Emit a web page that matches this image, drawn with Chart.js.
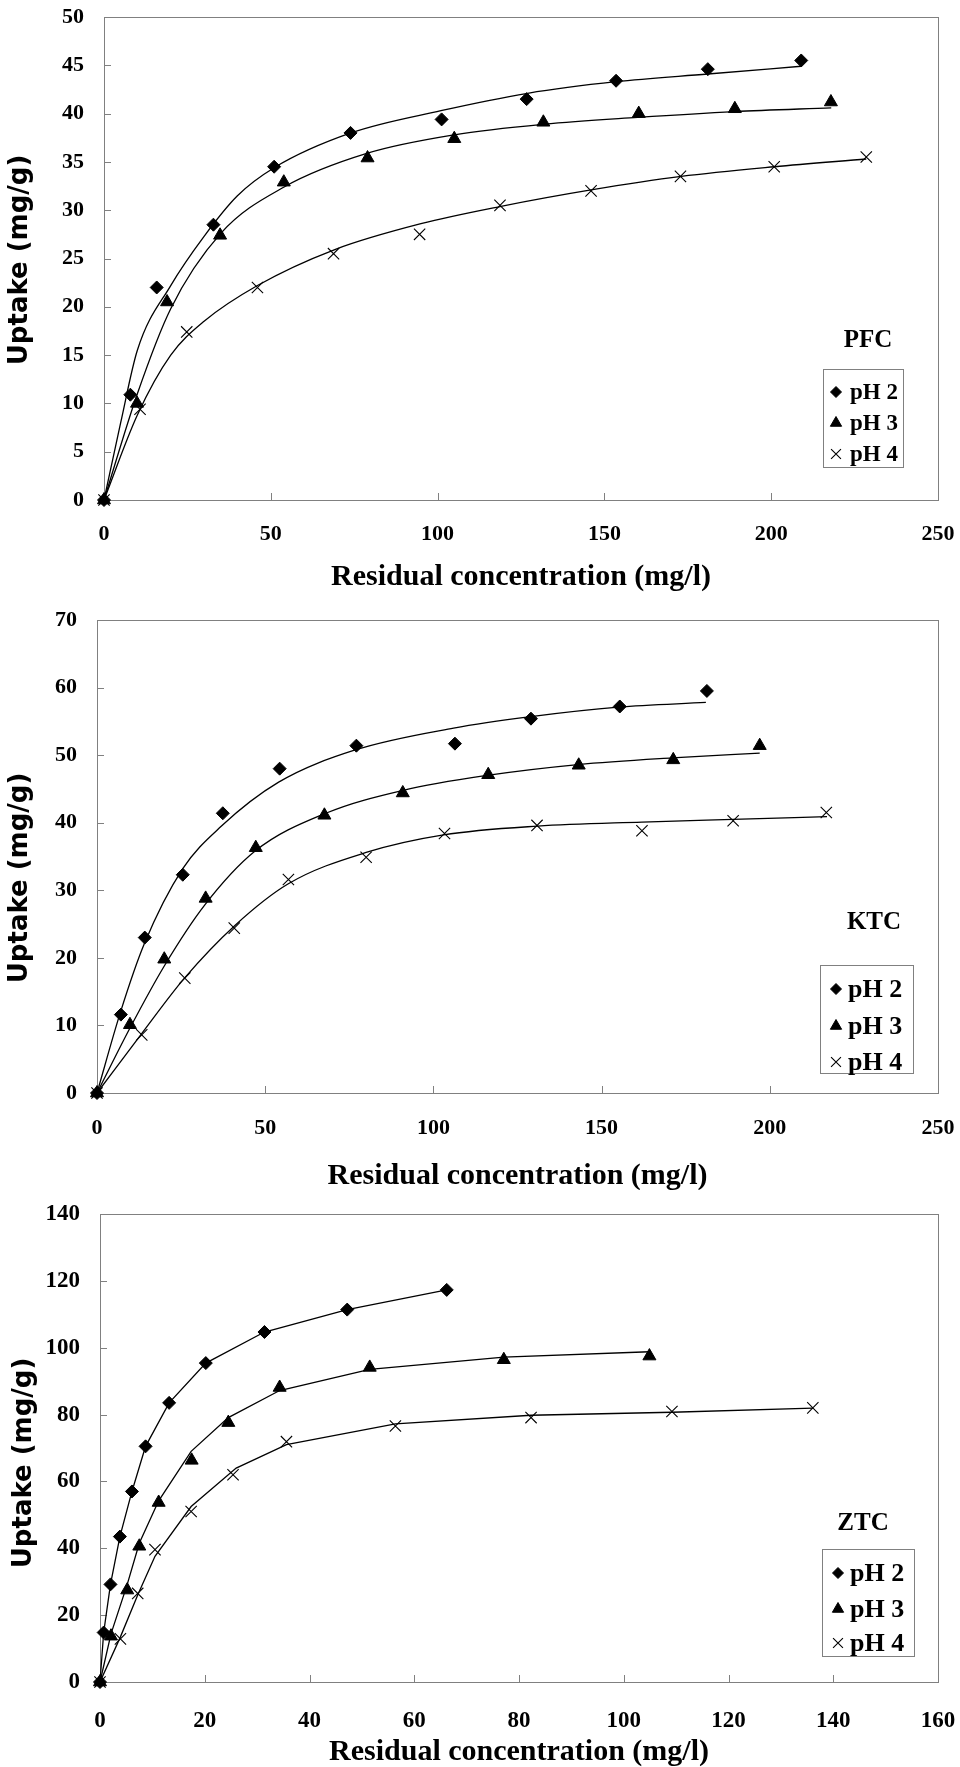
<!DOCTYPE html>
<html lang="en">
<head>
  <meta charset="UTF-8" />
  <title>Uptake vs residual concentration</title>
  <script src="https://cdn.jsdelivr.net/npm/chart.js"></script>
  <style>
    body { margin: 0; background: #fff; width: 960px; height: 1767px; position: relative; overflow: hidden; }
    .panel { position: absolute; left: 0; width: 960px; }
  </style>
</head>
<body>

  <div class="panel" style="top:0;height:600px"><canvas id="pfc"></canvas></div>
  <div class="panel" style="top:600px;height:590px"><canvas id="ktc"></canvas></div>
  <div class="panel" style="top:1190px;height:577px"><canvas id="ztc"></canvas></div>

  <script>
    // ---- data ----
    const seriesNames = ["pH 2", "pH 3", "pH 4"];

    // PFC
    const pfcPh2X = [0, 7.9, 15.8, 32.8, 51, 73.9, 101.2, 126.7, 153.5, 181, 209];
    const pfcPh2Y = [0, 10.9, 22.0, 28.5, 34.5, 38.0, 39.4, 41.5, 43.4, 44.6, 45.5];
    const pfcPh3X = [0, 9.9, 18.9, 34.8, 53.9, 79, 105, 131.7, 160.3, 189.1, 217.9];
    const pfcPh3Y = [0, 10.0, 20.5, 27.4, 32.9, 35.4, 37.4, 39.1, 40.0, 40.5, 41.2];
    const pfcPh4X = [0, 10.8, 24.8, 46, 68.8, 94.6, 118.7, 146, 172.8, 200.9, 228.5];
    const pfcPh4Y = [0, 9.4, 17.4, 22.0, 25.5, 27.5, 30.5, 32.0, 33.5, 34.5, 35.5];
    // fitted curves (as drawn)
    const pfcFit2X = [0, 5, 10, 20, 30, 40, 51, 74, 101, 127, 153.5, 181, 209];
    const pfcFit2Y = [0, 8, 15.5, 22.2, 27.3, 31.5, 34.4, 38.0, 40.3, 42.1, 43.3, 44.1, 44.9];
    const pfcFit3X = [0, 10, 20, 35, 54, 79, 105, 132, 160, 189, 218];
    const pfcFit3Y = [0, 11, 19.8, 27.6, 32.4, 35.9, 37.8, 38.9, 39.6, 40.2, 40.6];
    const pfcFit4X = [0, 10, 20, 30, 46, 69, 95, 119, 146, 173, 201, 228.5];
    const pfcFit4Y = [0, 8.8, 15.0, 18.5, 22.2, 25.9, 28.6, 30.4, 32.1, 33.5, 34.5, 35.3];

    // KTC
    const ktcPh2X = [0, 7.1, 14.2, 25.5, 37.4, 54.3, 77.1, 106.4, 129, 155.4, 181.3];
    const ktcPh2Y = [0, 11.6, 23.0, 32.3, 41.4, 48.0, 51.4, 51.7, 55.4, 57.2, 59.5];
    const ktcPh3X = [0, 9.8, 20, 32.3, 47.2, 67.6, 90.9, 116.3, 143.2, 171.3, 197];
    const ktcPh3Y = [0, 10.1, 19.8, 28.8, 36.3, 41.1, 44.4, 47.1, 48.5, 49.3, 51.4];
    const ktcPh4X = [0, 13.3, 26.1, 40.8, 56.9, 80, 103.3, 130.8, 162, 189.1, 216.8];
    const ktcPh4Y = [0, 8.6, 17.0, 24.4, 31.6, 34.9, 38.4, 39.6, 38.8, 40.3, 41.5];
    const ktcFit2X = [0, 7, 14, 25.5, 37, 54, 77, 106, 129, 155, 181];
    const ktcFit2Y = [0, 12, 22, 33.2, 39.5, 46, 50.8, 54, 55.7, 57.1, 57.8];
    const ktcFit3X = [0, 10, 20, 32, 47, 68, 91, 116, 143, 171, 197];
    const ktcFit3Y = [0, 9.8, 18.8, 27.8, 35.8, 41.4, 44.8, 47.0, 48.6, 49.6, 50.3];
    const ktcFit4X = [0, 13, 26, 41, 57, 80, 103, 131, 162, 189, 217];
    const ktcFit4Y = [0, 8.6, 17.0, 24.8, 31.0, 35.6, 38.2, 39.5, 40.1, 40.5, 40.9];

    // ZTC
    const ztcPh2X = [0, 0.7, 2.0, 3.8, 6.1, 8.7, 13.2, 20.2, 31.4, 47.2, 66.2];
    const ztcPh2Y = [0, 14.8, 29.2, 43.5, 57.0, 70.5, 83.5, 95.4, 104.7, 111.4, 117.3];
    const ztcPh3X = [0, 2.1, 5.2, 7.5, 11.2, 17.5, 24.5, 34.3, 51.5, 77.1, 104.9];
    const ztcPh3Y = [0, 13.7, 27.5, 40.6, 53.7, 66.3, 77.6, 88.1, 94.1, 96.4, 97.5];
    const ztcPh4X = [0, 3.9, 7.2, 10.5, 17.4, 25.4, 35.6, 56.4, 82.3, 109.2, 136.1];
    const ztcPh4Y = [0, 12.9, 26.5, 39.6, 51.0, 62.0, 71.9, 76.6, 79.1, 80.9, 82.0];
    const ztcFit3X = [0, 2.1, 5.2, 7.5, 11.2, 17.4, 24.5, 34.3, 51.5, 77.1, 104.9];
    const ztcFit3Y = [0, 14.4, 29.2, 41.5, 54.2, 69.0, 79.1, 87.2, 93.5, 97.2, 98.8];
    const ztcFit4X = [0, 3.9, 7.2, 10.5, 17.4, 26.0, 35.6, 56.4, 82.3, 109.2, 136.1];
    const ztcFit4Y = [0, 13.5, 26.0, 37.6, 52.5, 64.0, 71.0, 77.2, 79.8, 80.7, 81.9];

    const xTitle = "Residual concentration (mg/l)";
    const yTitle = "Uptake (mg/g)";

    // ---- helpers ----
    const pts = (xs, ys) => xs.map((x, i) => ({ x: x, y: ys[i] }));
    const markers = [
      { pointStyle: "rectRot", radius: 6.5, borderWidth: 1 },
      { pointStyle: "triangle", radius: 7.5, borderWidth: 1 },
      { pointStyle: "crossRot", radius: 8, borderWidth: 1.1 }
    ];

    function pointSet(i, xs, ys, line) {
      const m = markers[i];
      return {
        label: seriesNames[i],
        data: pts(xs, ys),
        showLine: !!line,
        borderColor: "#000",
        backgroundColor: "#000",
        borderWidth: 1.3,
        pointStyle: m.pointStyle,
        pointRadius: m.radius,
        pointBorderWidth: m.borderWidth,
        pointBackgroundColor: "#000",
        pointBorderColor: "#000",
        clip: false,
        order: 1
      };
    }

    function curveSet(xs, ys, smooth) {
      return {
        label: "",
        data: pts(xs, ys),
        showLine: true,
        borderColor: "#000",
        borderWidth: 1.3,
        pointRadius: 0,
        cubicInterpolationMode: smooth ? "monotone" : "default",
        tension: 0,
        clip: false,
        order: 2
      };
    }

    // frame, inward ticks, y title, legend box and panel label
    const decor = {
      id: "decor",
      beforeDatasetsDraw(chart) {
        const { ctx, chartArea: a, scales } = chart;
        ctx.save();
        ctx.strokeStyle = "#808080";
        ctx.lineWidth = 1;
        ctx.strokeRect(Math.round(a.left) + 0.5, Math.round(a.top) + 0.5,
                       Math.round(a.right - a.left), Math.round(a.bottom - a.top));
        ctx.beginPath();
        scales.x.ticks.forEach(t => {
          const px = Math.round(scales.x.getPixelForValue(t.value)) + 0.5;
          ctx.moveTo(px, a.bottom);
          ctx.lineTo(px, a.bottom - 7);
        });
        scales.y.ticks.forEach(t => {
          const py = Math.round(scales.y.getPixelForValue(t.value)) + 0.5;
          ctx.moveTo(a.left, py);
          ctx.lineTo(a.left + 7, py);
        });
        ctx.stroke();
        ctx.restore();
      },
      afterDraw(chart, args, o) {
        const ctx = chart.ctx;
        ctx.save();
        ctx.fillStyle = "#000";
        ctx.textAlign = "center";
        ctx.textBaseline = "middle";

        // y axis title
        ctx.save();
        ctx.translate(o.yTitleX, o.yTitleY);
        ctx.rotate(-Math.PI / 2);
        ctx.font = "bold 26px 'DejaVu Sans'";
        ctx.fillText(yTitle, 0, 0);
        ctx.restore();

        ctx.font = "bold 25px 'Liberation Serif'";
        ctx.fillText(o.name, o.nameX, o.nameY);

        ctx.strokeStyle = "#808080";
        ctx.lineWidth = 1;
        ctx.strokeRect(o.box[0] + 0.5, o.box[1] + 0.5, o.box[2] - o.box[0], o.box[3] - o.box[1]);

        ctx.font = "bold " + o.fontSize + "px 'Liberation Serif'";
        ctx.textAlign = "left";
        seriesNames.forEach((n, i) => {
          const m = markers[i];
          ctx.fillStyle = "#000";
          ctx.strokeStyle = "#000";
          ctx.lineWidth = m.borderWidth;
          Chart.helpers.drawPoint(ctx, { pointStyle: m.pointStyle, radius: m.radius - 1, borderWidth: m.borderWidth, rotation: 0 }, o.markX, o.rows[i]);
          ctx.fillStyle = "#000";
          ctx.fillText(n, o.textX, o.rows[i] + 1);
        });
        ctx.restore();
      }
    };

    function makeChart(id, c) {
      new Chart(document.getElementById(id), {
        type: "scatter",
        data: { datasets: c.datasets },
        plugins: [decor],
        options: {
          responsive: true,
          maintainAspectRatio: false,
          animation: false,
          layout: { padding: { top: c.padTop, right: 22, left: 0, bottom: 0 } },
          plugins: {
            legend: { display: false },
            tooltip: { enabled: false },
            decor: c.decor
          },
          scales: {
            x: {
              type: "linear",
              min: 0, max: c.xMax,
              afterFit: s => { s.height = c.xHeight; s.paddingLeft = 0; s.paddingRight = 0; },
              grid: { display: false, drawTicks: false },
              border: { display: false },
              ticks: { stepSize: c.xStep, color: "#000", padding: c.xTickPad,
                       font: { family: "Liberation Serif", weight: "bold", size: c.tickFont } },
              title: { display: true, text: xTitle, color: "#000",
                       padding: { top: 0, bottom: c.xTitlePad },
                       font: { family: "Liberation Serif", weight: "bold", size: 30 } }
            },
            y: {
              min: 0, max: c.yMax,
              afterFit: s => { s.width = c.yWidth; s.paddingTop = 0; s.paddingBottom = 0; },
              grid: { display: false, drawTicks: false },
              border: { display: false },
              ticks: { stepSize: c.yStep, color: "#000", padding: 20,
                       font: { family: "Liberation Serif", weight: "bold", size: c.tickFont } },
              title: { display: false }
            }
          }
        }
      });
    }

    makeChart("pfc", {
      datasets: [
        curveSet(pfcFit2X, pfcFit2Y, true),
        curveSet(pfcFit3X, pfcFit3Y, true),
        curveSet(pfcFit4X, pfcFit4Y, true),
        pointSet(0, pfcPh2X, pfcPh2Y),
        pointSet(1, pfcPh3X, pfcPh3Y),
        pointSet(2, pfcPh4X, pfcPh4Y)
      ],
      xMax: 250, xStep: 50, yMax: 50, yStep: 5,
      padTop: 17, xHeight: 100, yWidth: 104, tickFont: 22, xTickPad: 21, xTitlePad: 5,
      decor: { name: "PFC", nameX: 868, nameY: 341, box: [823, 369, 903, 467],
               rows: [392, 423, 454], markX: 836, textX: 850, fontSize: 23,
               yTitleX: 20, yTitleY: 260 }
    });

    makeChart("ktc", {
      datasets: [
        curveSet(ktcFit2X, ktcFit2Y, true),
        curveSet(ktcFit3X, ktcFit3Y, true),
        curveSet(ktcFit4X, ktcFit4Y, true),
        pointSet(0, ktcPh2X, ktcPh2Y),
        pointSet(1, ktcPh3X, ktcPh3Y),
        pointSet(2, ktcPh4X, ktcPh4Y)
      ],
      xMax: 250, xStep: 50, yMax: 70, yStep: 10,
      padTop: 20, xHeight: 97, yWidth: 97, tickFont: 22, xTickPad: 22, xTitlePad: -4,
      decor: { name: "KTC", nameX: 874, nameY: 323, box: [820, 365, 913, 473],
               rows: [389, 426, 462], markX: 836, textX: 848, fontSize: 26,
               yTitleX: 20, yTitleY: 278 }
    });

    makeChart("ztc", {
      datasets: [
        curveSet(ztcFit3X, ztcFit3Y, false),
        curveSet(ztcFit4X, ztcFit4Y, false),
        pointSet(0, ztcPh2X, ztcPh2Y, true),
        pointSet(1, ztcPh3X, ztcPh3Y),
        pointSet(2, ztcPh4X, ztcPh4Y)
      ],
      xMax: 160, xStep: 20, yMax: 140, yStep: 20,
      padTop: 24, xHeight: 85, yWidth: 100, tickFont: 23, xTickPad: 25, xTitlePad: -3,
      decor: { name: "ZTC", nameX: 863, nameY: 334, box: [822, 359, 914, 466],
               rows: [383, 419, 453], markX: 838, textX: 850, fontSize: 26,
               yTitleX: 24, yTitleY: 273 }
    });
  </script>

</body>
</html>
